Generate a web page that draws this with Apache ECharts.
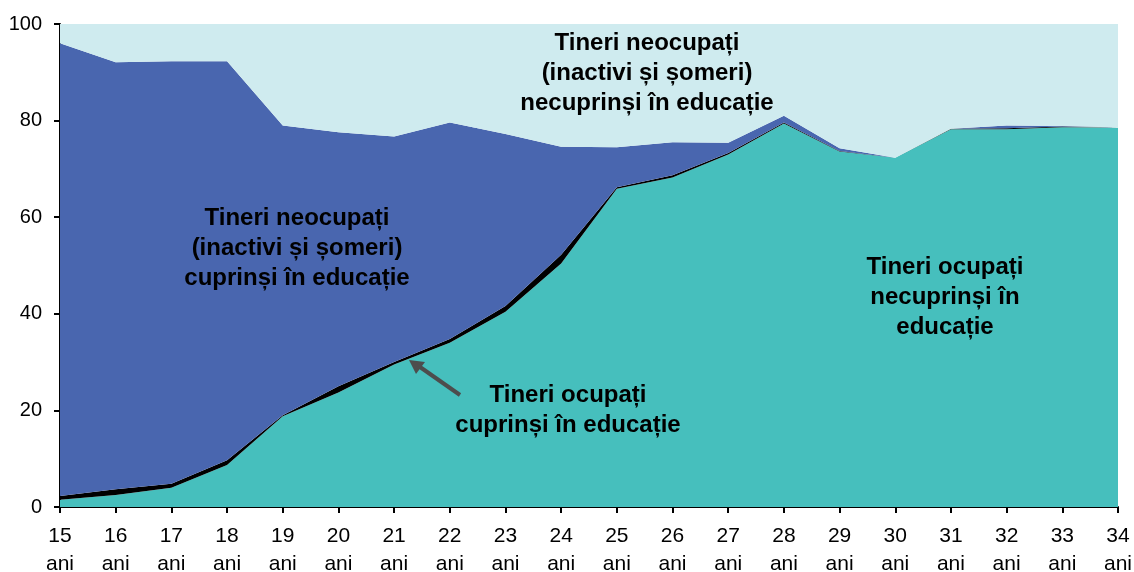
<!DOCTYPE html>
<html>
<head>
<meta charset="utf-8">
<script src="https://cdn.jsdelivr.net/npm/echarts@6/dist/echarts.min.js"></script>
<style>
  html, body { margin: 0; padding: 0; background: #fff; }
  #main { width: 1134px; height: 572px; }
</style>
</head>
<body>
<div id="main"></div>
<script>
const ages = ['15', '16', '17', '18', '19', '20', '21', '22', '23', '24', '25', '26', '27', '28', '29', '30', '31', '32', '33', '34']

// layer values (stacked, sum = 100)
const ocupatiNecuprinsi = [1.5, 2.5, 4.0, 8.7, 18.8, 23.7, 29.5, 34.0, 40.4, 50.4, 65.9, 68.2, 73.0, 79.4, 73.6, 72.3, 78.2, 78.2, 78.6, 78.5]
const ocupatiCuprinsi = [0.8, 1.2, 0.8, 1.0, 0.2, 1.3, 0.5, 0.8, 1.2, 1.8, 0.3, 0.5, 0.3, 0.2, 0.1, 0.0, 0.1, 0.2, 0.2, 0.1]
const neocupatiCuprinsi = [93.7, 88.4, 87.5, 82.6, 60.0, 52.6, 46.7, 44.8, 35.6, 22.4, 8.3, 6.8, 2.1, 1.4, 0.6, 0.0, 0.0, 0.6, 0.1, 0.0]
const neocupatiNecuprinsi = [4.0, 7.9, 7.7, 7.7, 21.0, 22.4, 23.3, 20.4, 22.8, 25.4, 25.5, 24.5, 24.6, 19.0, 25.7, 27.7, 21.7, 21.0, 21.1, 21.4]

const yTicks = { min: 0, max: 100, interval: 20 }

const chart = echarts.init(document.getElementById('main'))

const font = 'Liberation Sans, Arial, sans-serif'

function layer (name, data, color) {
  return {
    name: name,
    type: 'line',
    stack: 'total',
    data: data,
    symbol: 'none',
    lineStyle: { width: 0 },
    areaStyle: { color: color, opacity: 1 },
    silent: true
  }
}

// area annotations, positioned by centre-top
function note (text, x, y) {
  return {
    type: 'text',
    x: x,
    y: y,
    z: 100,
    style: {
      text: text,
      fontFamily: font,
      fontSize: 24,
      fontWeight: 'bold',
      fill: '#000',
      lineHeight: 30,
      align: 'center',
      verticalAlign: 'top'
    }
  }
}

const option = {
  animation: false,
  grid: { left: 60, right: 16, top: 24, bottom: 65, outerBoundsMode: 'none' },
  xAxis: {
    type: 'category',
    boundaryGap: false,
    data: ages,
    axisLine: { lineStyle: { color: '#000', width: 2 } },
    axisTick: { alignWithLabel: true, length: 6, lineStyle: { color: '#000', width: 2 } },
    axisLabel: {
      interval: 0,
      margin: 15,
      color: '#000',
      fontFamily: font,
      fontSize: 21,
      lineHeight: 28,
      formatter: v => v + '\nani'
    },
    splitLine: { show: false }
  },
  yAxis: {
    type: 'value',
    min: yTicks.min,
    max: yTicks.max,
    interval: yTicks.interval,
    axisLine: { show: true, lineStyle: { color: '#000', width: 2 } },
    axisTick: { show: true, length: 6, lineStyle: { color: '#000', width: 2 } },
    axisLabel: { margin: 18, color: '#000', fontFamily: font, fontSize: 20 },
    splitLine: { show: false }
  },
  series: [
    layer('Tineri ocupați necuprinși în educație', ocupatiNecuprinsi, '#46BFBD'),
    layer('Tineri ocupați cuprinși în educație', ocupatiCuprinsi, '#000000'),
    layer('Tineri neocupați cuprinși în educație', neocupatiCuprinsi, '#4966AF'),
    layer('Tineri neocupați necuprinși în educație', neocupatiNecuprinsi, '#CFEBEF')
  ],
  graphic: [
    note('Tineri neocupați\n(inactivi și șomeri)\ncuprinși în educație', 297, 203),
    note('Tineri neocupați\n(inactivi și șomeri)\nnecuprinși în educație', 647, 28),
    note('Tineri ocupați\ncuprinși în educație', 568, 380),
    note('Tineri ocupați\nnecuprinși în\neducație', 945, 252),
    { type: 'line', shape: { x1: 460, y1: 395, x2: 420, y2: 367 }, style: { stroke: '#4D4D4D', lineWidth: 4 }, z: 100 },
    { type: 'polygon', shape: { points: [[409, 360], [425, 362], [416, 374]] }, style: { fill: '#4D4D4D' }, z: 100 }
  ]
}

chart.setOption(option)
</script>
</body>
</html>
